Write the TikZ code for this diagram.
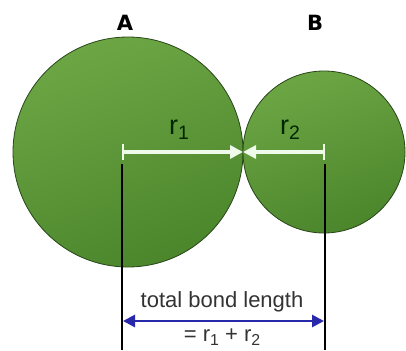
\documentclass[tikz,border=0pt]{standalone}
\usepackage{fontspec}
\setmainfont{Liberation Sans}
\newfontfamily\labfont{DejaVu Sans}
\usetikzlibrary{arrows.meta}
\definecolor{glight}{RGB}{108,166,68}
\definecolor{gdark}{RGB}{76,134,44}
\definecolor{gline}{RGB}{40,70,25}
\definecolor{bondblue}{RGB}{40,40,170}
\definecolor{arrwhite}{RGB}{240,250,235}
\newcommand{\subn}[1]{\raisebox{-0.35ex}{\fontsize{0.72em}{1em}\selectfont #1}}
\begin{document}
\begin{tikzpicture}[x=1pt,y=-1pt,
  atom/.style={circle, inner sep=0pt, draw=gline, line width=0.8pt,
    shading=axis, top color=glight, bottom color=gdark, shading angle=20},
  radiusarrow/.style={arrwhite, line width=3.4pt,
    arrows={Bar[width=16pt,line width=2.4pt]-Triangle[length=13pt,width=13pt]}},
  guide/.style={black, line width=1.8pt},
  bondarrow/.style={bondblue, line width=2.8pt,
    arrows={Triangle[length=12pt,width=12pt]-Triangle[length=12pt,width=12pt]}},
  lbl/.style={font=\labfont\bfseries\fontsize{21}{24}\selectfont},
  rlbl/.style={font=\fontsize{27}{30}\selectfont, text=black!85!green},
  txt/.style={font=\fontsize{22}{26}\selectfont, text=black!80}]
\useasboundingbox (0,0) rectangle (406,350);
\fill[white] (0,0) rectangle (406,350);
\node[atom, minimum size=230pt] (atomA) at (128,152) {};
\node[atom, minimum size=162pt] (atomB) at (324,152) {};
\coordinate (ca) at (122,152);
\coordinate (cb) at (325,152);
\coordinate (touch) at (243,152);
\coordinate (la1) at (122,164);
\coordinate (la2) at (122,350);
\coordinate (lb1) at (325,164);
\coordinate (lb2) at (325,350);
\coordinate (ba1) at (123,321);
\coordinate (ba2) at (324,321);
\draw[radiusarrow] (ca) -- (touch);
\draw[radiusarrow] (cb) -- (touch);
\draw[guide] (la1) -- (la2);
\draw[guide] (lb1) -- (lb2);
\draw[bondarrow] (ba1) -- (ba2);
\node[lbl] (labA) at (125,23) {A};
\node[lbl] (labB) at (315,23) {B};
\node[rlbl] (r1) at (179,130) {r\subn{1}};
\node[rlbl] (r2) at (290,130) {r\subn{2}};
\node[txt] (tbl) at (222,302) {total bond length};
\node[txt] (sum) at (222,337) {= r\subn{1} + r\subn{2}};
\end{tikzpicture}
\end{document}
